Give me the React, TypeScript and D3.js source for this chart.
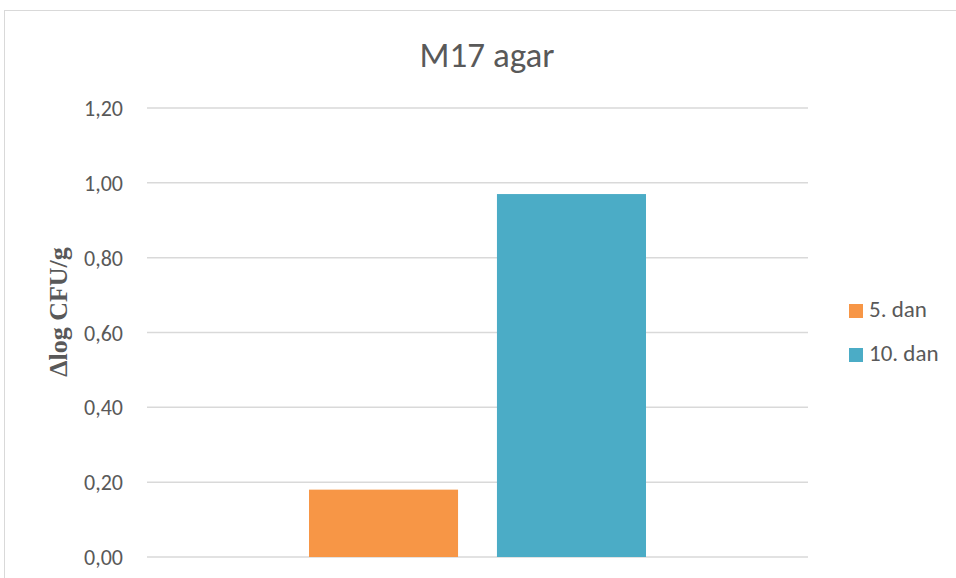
import React from 'react';
import * as d3 from 'd3';

const categories = ['M17 agar'];
const seriesNames = ['5. dan', '10. dan'];
const seriesValues = [0.18, 0.97];
const seriesColors = ['#F79646', '#4BACC6'];
const yTicks = [0, 0.2, 0.4, 0.6, 0.8, 1.0, 1.2];

const W = 956;
const H = 578;
const margin = { top: 108, right: 148, bottom: 21, left: 147 };
const FONT = "Carlito, Calibri, 'Liberation Sans Narrow', 'Open Sans', sans-serif";

const App = () => {
  const x0 = d3.scaleBand()
    .domain(categories)
    .range([margin.left, W - margin.right]);

  // bars ~149px wide, ~39px apart, centred in the category
  const x1 = d3.scaleBand()
    .domain(seriesNames)
    .range([0, x0.bandwidth()])
    .paddingInner(0.207)
    .paddingOuter(0.862);

  const y = d3.scaleLinear()
    .domain([0, 1.2])
    .range([H - margin.bottom, margin.top]);

  const fmt = (v: number) => v.toFixed(2).replace('.', ',');

  return (
    <svg width={W} height={H} style={{ position: 'absolute', left: 0, top: 0 }}>
      <rect x={0} y={0} width={W} height={H} fill="#fff" />
      <rect x={4.5} y={10.5} width={W + 20} height={H + 20} fill="none" stroke="#d9d9d9" strokeWidth={1} />

      <text x={487} y={67} textAnchor="middle" fontFamily={FONT} fontSize={35} fill="#595959">
        M17 agar
      </text>

      {yTicks.map(t => (
        <g key={t}>
          <line x1={margin.left} x2={W - margin.right} y1={y(t)} y2={y(t)} stroke="#d9d9d9" strokeWidth={1.5} />
          <text x={123} y={y(t) + 8} textAnchor="end" fontFamily={FONT} fontSize={22} fill="#595959">
            {fmt(t)}
          </text>
        </g>
      ))}

      {categories.map(c => (
        <g key={c} transform={`translate(${x0(c)},0)`}>
          {seriesNames.map((s, i) => (
            <rect key={s}
              x={x1(s)}
              y={y(seriesValues[i])}
              width={x1.bandwidth()}
              height={y(0) - y(seriesValues[i])}
              fill={seriesColors[i]} />
          ))}
        </g>
      ))}

      <text transform={`translate(67,312) rotate(-90)`} textAnchor="middle"
        fontFamily="'Liberation Serif', 'Times New Roman', serif" fontWeight="bold" fontSize={26} fill="#595959">
        Δlog CFU/g
      </text>

      {seriesNames.map((s, i) => (
        <g key={s} transform={`translate(849,${304 + i * 44})`}>
          <rect x={0} y={0} width={14} height={14} fill={seriesColors[i]} />
          <text x={20} y={12.5} fontFamily={FONT} fontSize={23} fill="#595959">{s}</text>
        </g>
      ))}
    </svg>
  );
};

export default App;
